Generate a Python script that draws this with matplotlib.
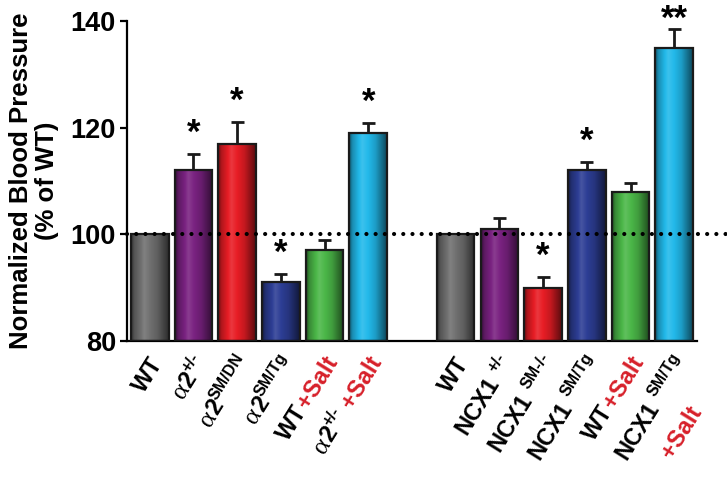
import numpy as np
import matplotlib
matplotlib.use('Agg')
import matplotlib.pyplot as plt
import matplotlib.transforms as mtrans
from matplotlib.colors import to_rgb
from matplotlib.patches import Rectangle
from matplotlib.textpath import TextPath
from matplotlib.font_manager import FontProperties

plt.rcParams['font.family'] = 'Liberation Sans'
plt.rcParams['font.weight'] = 'bold'

# data
positions = [0, 1, 2, 3, 4, 5, 7, 8, 9, 10, 11, 12]
values = [100, 112, 117, 91, 97, 119, 100, 101, 90, 112, 108, 135]
errors = [0, 3, 4, 1.6, 2, 1.8, 0, 2, 2, 1.5, 1.6, 3.5]
stars = ['', '*', '*', '*', '', '*', '', '', '*', '*', '', '**']
colors = ['#707070', '#7a2281', '#e81d25', '#2d3e95', '#4bb748', '#22b9ea',
          '#707070', '#7a2281', '#e81d25', '#2d3e95', '#4bb748', '#22b9ea']
RED = '#d7202a'
K = 'black'
# label pieces: (text, colour, kind)  kind: m main, a alpha, s superscript
labels = [
    [('WT', K, 'm')],
    [('α', K, 'a'), ('2', K, 'm'), ('+/-', K, 's')],
    [('α', K, 'a'), ('2', K, 'm'), ('SM/DN', K, 's')],
    [('α', K, 'a'), ('2', K, 'm'), ('SM/Tg', K, 's')],
    [('WT', K, 'm'), ('+Salt', RED, 'm')],
    [('α', K, 'a'), ('2', K, 'm'), ('+/-', K, 's'), (' +Salt', RED, 'm')],
    [('WT', K, 'm')],
    [('NCX1 ', K, 'm'), ('+/-', K, 's')],
    [('NCX1 ', K, 'm'), ('SM-/-', K, 's')],
    [('NCX1 ', K, 'm'), ('SM/Tg', K, 's')],
    [('WT', K, 'm'), ('+Salt', RED, 'm')],
    [('NCX1 ', K, 'm'), ('SM/Tg', K, 's')],
]
second_line = {11: [('+Salt', RED, 'm')]}

fig = plt.figure(figsize=(7.27, 4.78), dpi=100)
ax = fig.add_axes([0.1747, 0.2866, 0.7840, 0.6694])

width = 0.86


def shade(c, f):
    c = np.array(to_rgb(c))
    if f >= 0:
        return c + (1 - c) * f
    return c * (1 + f)


prof_x = [0, 0.08, 0.35, 0.7, 1]
prof_f = [-0.55, -0.25, 0.12, -0.15, -0.6]
tt = np.linspace(0, 1, 60)
for x, v, c in zip(positions, values, colors):
    grad = np.array([[shade(c, f) for f in np.interp(tt, prof_x, prof_f)]])
    rect = Rectangle((x - width / 2, 80), width, v - 80, facecolor='none',
                     edgecolor='#1a1a1a', linewidth=1.6, zorder=3)
    ax.add_patch(rect)
    im = ax.imshow(grad, extent=[x - width / 2, x + width / 2, 80, v],
                   aspect='auto', zorder=2, interpolation='bilinear')
    im.set_clip_path(rect)

ax.set_aspect('auto')
ax.set_xlim(-0.52, 12.52)
ax.set_ylim(80, 140)

tops = [v + e for v, e in zip(values, errors)]
epos = [p for p, e in zip(positions, errors) if e > 0]
ax.vlines(epos, [v for v, e in zip(values, errors) if e > 0],
          [t for t, e in zip(tops, errors) if e > 0], color='#1a1a1a', lw=2, zorder=2.5)
ax.hlines([t for t, e in zip(tops, errors) if e > 0], [p - 0.15 for p in epos],
          [p + 0.15 for p in epos], color='#1a1a1a', lw=2, zorder=2.5)

for x, t, s in zip(positions, tops, stars):
    if s:
        dy = -5 if s == '**' else 3
        ax.annotate(s, (x, t), xytext=(0, dy), textcoords='offset points',
                    ha='center', va='bottom', fontsize=25, fontweight='bold',
                    annotation_clip=False)

ax.plot([-0.52, 13.4], [100, 100], color='black', lw=3,
        linestyle=(0, (0.01, 2.2)), dash_capstyle='round', clip_on=False, zorder=5)

for side in ['top', 'right']:
    ax.spines[side].set_visible(False)
for side in ['left', 'bottom']:
    ax.spines[side].set_linewidth(1.6)
ax.set_yticks([80, 100, 120, 140])
ax.tick_params(axis='y', length=5, width=1.6, labelsize=19.5, pad=3)
ax.set_xticks([])
for lab in ax.get_yticklabels():
    lab.set_fontweight('bold')
ax.set_ylabel('Normalized Blood Pressure\n(% of WT)', fontsize=18.5,
              fontweight='bold', labelpad=8, linespacing=1.15)

# rotated multi-colour tick labels
ANG = 58
ca, sa = np.cos(np.radians(ANG)), np.sin(np.radians(ANG))
sizes = {'m': 17, 'a': 19, 's': 11.5}
fp_bold = FontProperties(family='Liberation Sans', weight='bold')
fp_alpha = FontProperties(family='Liberation Serif', weight='normal')


def seg_width(txt, kind):
    fp = fp_alpha if kind == 'a' else fp_bold
    w = TextPath((0, 0), txt.strip(), size=sizes[kind], prop=fp).get_extents().width
    if txt.endswith(' '):
        w += sizes[kind] * 0.28
    if txt.startswith(' '):
        w += sizes[kind] * 0.28
    return w


base = mtrans.blended_transform_factory(ax.transData, ax.transAxes)


def draw_line(x, pieces, ex, ey):
    # ex, ey: end of the baseline, in points relative to (x, axis bottom)
    total = sum(seg_width(p[0], p[2]) + 1 for p in pieces)
    px = ex - total * ca
    py = ey - total * sa
    for txt, col, kind in pieces:
        rise = 6.5 if kind == 's' else 0
        lead = sizes[kind] * 0.28 if txt.startswith(' ') else 0
        ox = px + lead * ca - rise * sa
        oy = py + lead * sa + rise * ca
        tr = base + mtrans.ScaledTranslation(ox / 72, oy / 72, fig.dpi_scale_trans)
        fp = fp_alpha if kind == 'a' else fp_bold
        ax.text(x, 0, txt.strip(), transform=tr, rotation=ANG, rotation_mode='anchor',
                ha='left', va='baseline', color=col, fontproperties=fp,
                fontsize=sizes[kind], clip_on=False)
        w = seg_width(txt, kind) + 1
        px += w * ca
        py += w * sa


for i, (x, pieces) in enumerate(zip(positions, labels)):
    ex, ey = 10, -15
    draw_line(x, pieces, ex, ey)
    if i in second_line:
        draw_line(x, second_line[i], ex - 25 * ca + 28 * sa, ey - 25 * sa - 28 * ca)

fig.savefig('out.png', dpi=100)
